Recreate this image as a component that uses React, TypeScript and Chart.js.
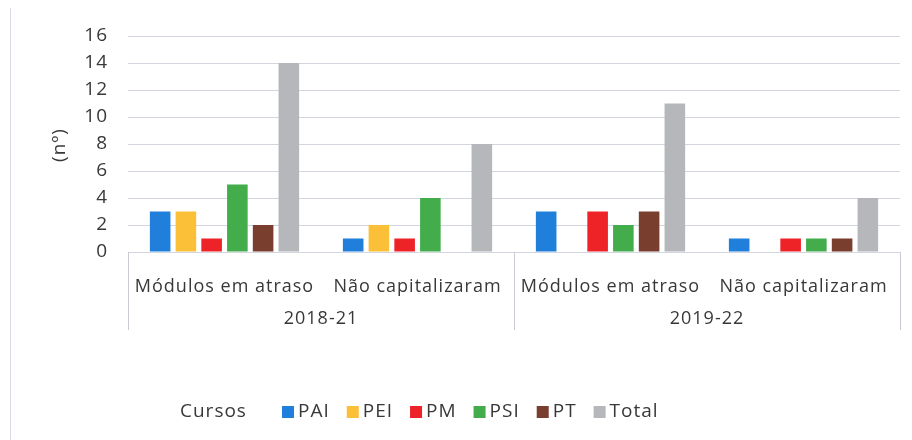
import React, { useEffect, useRef } from "react";
import { Chart, registerables } from "chart.js";

Chart.register(...registerables);

const categories = ["Módulos em atraso", "Não capitalizaram", "Módulos em atraso", "Não capitalizaram"];
const groups = ["2018-21", "2019-22"];
const seriesNames = ["PAI", "PEI", "PM", "PSI", "PT", "Total"];
const PAI = [3, 1, 3, 1];
const PEI = [3, 2, 0, 0];
const PM = [1, 1, 3, 1];
const PSI = [5, 4, 2, 1];
const PT = [2, 0, 3, 1];
const Total = [14, 8, 11, 4];
const yTicks = [0, 2, 4, 6, 8, 10, 12, 14, 16];
const legendTitle = "Cursos";
const yTitle = "(nº)";

const colors = ["#1f7fdb", "#fbbf38", "#ee2328", "#43ad4c", "#7a3e2e", "#b5b7ba"];
const FONT = "'Open Sans', sans-serif";
const TEXT = "#383838";
const LINE = "#d3d6de";

const decorPlugin = {
  id: "decor",
  beforeUpdate(chart: any) {
    (chart.ctx as any).letterSpacing = "1px";
  },
  beforeDraw(chart: any) {
    const ctx = chart.ctx;
    (ctx as any).letterSpacing = "1px";
    ctx.save();
    ctx.fillStyle = "#ffffff";
    ctx.fillRect(0, 0, chart.width, chart.height);
    ctx.restore();
  },
  afterDraw(chart: any) {
    const ctx = chart.ctx;
    const x = chart.scales.x;
    const area = chart.chartArea;
    ctx.save();
    (ctx as any).letterSpacing = "1px";
    // frame line at left
    ctx.strokeStyle = "#d8dbe3";
    ctx.lineWidth = 1;
    ctx.beginPath();
    ctx.moveTo(10.5, 8);
    ctx.lineTo(10.5, chart.height);
    ctx.stroke();

    // group separators
    const per = categories.length / groups.length;
    const bounds: number[] = [area.left];
    for (let g = 1; g < groups.length; g++) {
      const a = x.getPixelForTick(g * per - 1);
      const b = x.getPixelForTick(g * per);
      bounds.push((a + b) / 2);
    }
    bounds.push(area.right);
    ctx.strokeStyle = "#c8cbd4";
    ctx.beginPath();
    bounds.forEach((bx) => {
      const px = Math.round(bx) + 0.5;
      ctx.moveTo(px, area.bottom);
      ctx.lineTo(px, 330);
    });
    ctx.stroke();

    ctx.fillStyle = TEXT;
    ctx.font = `18px ${FONT}`;
    ctx.textAlign = "center";
    ctx.textBaseline = "middle";
    groups.forEach((g, i) => {
      ctx.fillText(g, (bounds[i] + bounds[i + 1]) / 2, 319);
    });

    // y title
    ctx.save();
    ctx.font = `19px ${FONT}`;
    ctx.translate(60, 145);
    ctx.rotate(-Math.PI / 2);
    ctx.fillText(yTitle, 0, 0);
    ctx.restore();

    // legend
    const ly = 412;
    ctx.font = `19px ${FONT}`;
    ctx.textAlign = "left";
    ctx.fillText(legendTitle, 180, ly);
    let lx = 282;
    chart.data.datasets.forEach((ds: any) => {
      ctx.fillStyle = ds.backgroundColor;
      ctx.fillRect(lx, ly - 6, 12, 12);
      ctx.fillStyle = TEXT;
      const tx = lx + 16;
      ctx.fillText(ds.label, tx, ly);
      lx = tx + ctx.measureText(ds.label).width + 17;
    });
    ctx.restore();
  },
};

export default function App() {
  const ref = useRef<HTMLCanvasElement>(null);
  useEffect(() => {
    if (!ref.current) return;
    const data = [PAI, PEI, PM, PSI, PT, Total];
    const chart = new Chart(ref.current, {
      type: "bar",
      data: {
        labels: categories,
        datasets: seriesNames.map((n, i) => ({
          label: n,
          data: data[i],
          backgroundColor: colors[i],
          categoryPercentage: 0.8,
          barPercentage: 0.8,
        })),
      },
      options: {
        responsive: false,
        animation: false,
        devicePixelRatio: 1,
        layout: { padding: { top: 36, right: 12, left: 0, bottom: 0 } },
        plugins: {
          legend: { display: false },
          tooltip: { enabled: false },
        },
        scales: {
          x: {
            grid: { display: false },
            border: { display: false },
            ticks: {
              color: TEXT,
              font: { family: FONT, size: 18 },
              padding: 16,
              maxRotation: 0,
              autoSkip: false,
            },
            afterFit(scale: any) {
              scale.height = 188;
            },
          },
          y: {
            min: 0,
            max: 16,
            afterBuildTicks(scale: any) {
              scale.ticks = yTicks.map((v) => ({ value: v }));
            },
            grid: { color: LINE, drawTicks: false, lineWidth: 1 },
            border: { display: false },
            ticks: {
              color: TEXT,
              font: { family: FONT, size: 19 },
              padding: 20,
            },
            afterFit(scale: any) {
              scale.width = 128;
            },
          },
        },
      },
      plugins: [decorPlugin],
    });
    return () => chart.destroy();
  }, []);
  return (
    <div style={{ position: "fixed", left: 0, top: 0, width: 912, height: 440, background: "#fff" }}>
      <canvas ref={ref} width={912} height={440} style={{ display: "block" }} />
    </div>
  );
}
